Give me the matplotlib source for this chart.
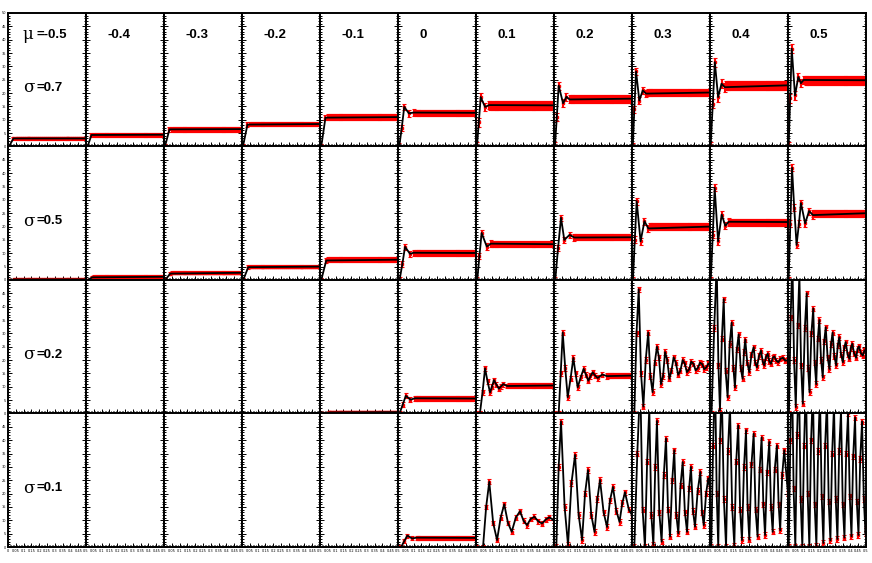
import matplotlib.pyplot as plt
from matplotlib.ticker import MultipleLocator, FuncFormatter

mu_labels = ["-0.5", "-0.4", "-0.3", "-0.2", "-0.1", "0", "0.1", "0.2", "0.3", "0.4", "0.5"]
sigma_labels = ["0.7", "0.5", "0.2", "0.1"]

# sampling times of the data points once a curve has settled
plateau_t = [0.0125 * k for k in range(4, 41)]

err07 = [0.6, 0.7, 0.9, 0.9, 1.0, 1.2, 1.6, 1.5, 1.3, 1.7, 1.6]
err05 = [0.35, 0.5, 0.6, 0.7, 0.9, 1.1, 1.2, 1.2, 1.3, 1.3, 1.3]
err02 = [0.5, 0.5, 0.5, 0.5, 0.6, 0.9, 0.9, 1.0, 1.0, 1.0, 1.0]
err01 = [0.5, 0.5, 0.5, 0.5, 0.5, 0.75, 0.9, 1.0, 1.0, 1.0, 1.0]

# each panel: (t, value) points (start, peaks, dips, slopes, plateau)
sig07 = {
    "-0.5": [(0, 0), (0.006, 0), (0.035, 3.0), (0.5, 3.0)],
    "-0.4": [(0, 0), (0.01, 0), (0.035, 4.3), (0.5, 4.4)],
    "-0.3": [(0, 0), (0.006, 0), (0.035, 6.4), (0.5, 6.5)],
    "-0.2": [(0, 0), (0.006, 0), (0.035, 8.2), (0.5, 8.4)],
    "-0.1": [(0, 0), (0.008, 0), (0.035, 10.8), (0.5, 11.0)],
    "0": [(0, 0), (0.008, 0), (0.024, 7), (0.04, 14.8), (0.07, 12.4), (0.1, 12.7), (0.5, 12.6)],
    "0.1": [(0, 0), (0.006, 0), (0.018, 9), (0.03, 18.5), (0.058, 14.8), (0.085, 15.5),
            (0.5, 15.4)],
    "0.2": [(0, 0), (0.006, 0), (0.018, 11), (0.03, 22.8), (0.058, 16.2), (0.08, 18.6),
            (0.1, 17.6), (0.5, 17.9)],
    "0.3": [(0, 0), (0.005, 0), (0.015, 14), (0.026, 28.1), (0.047, 17.2), (0.069, 21.0),
            (0.09, 19.8), (0.5, 20.2)],
    "0.4": [(0, 0), (0.004, 0), (0.018, 16), (0.031, 31.6), (0.052, 18.5), (0.074, 23.5),
            (0.095, 22.2), (0.5, 22.9)],
    "0.5": [(0, 0), (0.004, 0), (0.014, 18), (0.024, 36.6), (0.045, 19.1), (0.066, 26.0),
            (0.083, 23.7), (0.1, 24.9), (0.5, 24.8)],
}

sig05 = {
    "-0.5": [(0, 0), (0.01, 0), (0.04, 0.2), (0.5, 0.2)],
    "-0.4": [(0, 0), (0.01, 0), (0.04, 1.0), (0.5, 1.2)],
    "-0.3": [(0, 0), (0.008, 0), (0.04, 2.4), (0.5, 2.7)],
    "-0.2": [(0, 0), (0.008, 0), (0.04, 4.8), (0.5, 5.0)],
    "-0.1": [(0, 0), (0.008, 0), (0.04, 7.3), (0.5, 7.6)],
    "0": [(0, 0), (0.01, 0), (0.028, 6), (0.045, 12.4), (0.077, 9.8), (0.1, 10.2), (0.5, 10.1)],
    "0.1": [(0, 0), (0.008, 0), (0.022, 9), (0.036, 17.6), (0.069, 12.5), (0.095, 13.6),
            (0.5, 13.4)],
    "0.2": [(0, 0), (0.008, 0), (0.026, 12), (0.045, 23.3), (0.066, 15.0), (0.1, 16.9),
            (0.13, 15.9), (0.5, 16.0)],
    "0.3": [(0, 0), (0.006, 0), (0.018, 15), (0.03, 29.5), (0.055, 14.5), (0.08, 22.0),
            (0.105, 19.3), (0.5, 20.0)],
    "0.4": [(0, 0), (0.005, 0), (0.018, 17), (0.03, 34.5), (0.052, 14.5), (0.075, 24.5),
            (0.098, 20.3), (0.12, 21.8), (0.5, 21.7)],
    "0.5": [(0, 0), (0.004, 0), (0.015, 21), (0.026, 42.0), (0.04, 27), (0.055, 13.1),
            (0.07, 21), (0.083, 28.8), (0.11, 21.2), (0.135, 25.8), (0.16, 24.3), (0.5, 25.0)],
}

sig02 = {
    "-0.5": [(0, 0), (0.5, 0)],
    "-0.4": [(0, 0), (0.5, 0)],
    "-0.3": [(0, 0), (0.5, 0)],
    "-0.2": [(0, 0), (0.5, 0)],
    "-0.1": [(0, 0), (0.02, 0), (0.06, 0.4), (0.5, 0.5)],
    "0": [(0, 0), (0.01, 0), (0.03, 3.3), (0.05, 6.6), (0.08, 5.2), (0.11, 5.7), (0.5, 5.6)],
    "0.1": [(0, 0), (0.025, 0), (0.042, 8), (0.058, 16.9), (0.074, 12), (0.09, 7.9),
            (0.102, 10), (0.115, 12.5), (0.131, 10.8), (0.147, 9.3), (0.161, 10.2),
            (0.175, 11.0), (0.2, 10.3), (0.5, 10.5)],
    "0.2": [(0, 0), (0.03, 0), (0.043, 15), (0.056, 30.3), (0.072, 17), (0.088, 6.1),
            (0.106, 13), (0.124, 20.8), (0.138, 15), (0.152, 9.8), (0.171, 13.5),
            (0.19, 16.7), (0.205, 14.5), (0.22, 12.3), (0.234, 14), (0.248, 15.4),
            (0.264, 14.2), (0.28, 13.3), (0.31, 14.6), (0.34, 14.0), (0.5, 14.2)],
    "0.3": [(0, 0), (0.015, 0), (0.029, 30), (0.043, 46.5), (0.058, 15), (0.073, 2.6),
            (0.088, 20), (0.104, 30.3), (0.118, 14), (0.132, 8.0), (0.146, 19), (0.16, 25.0),
            (0.173, 21), (0.186, 11.0), (0.199, 14), (0.212, 23.0), (0.226, 20), (0.24, 13.0),
            (0.253, 16), (0.267, 21.0), (0.281, 19), (0.296, 14.5), (0.31, 16),
            (0.325, 20.0), (0.338, 18.8), (0.352, 15.5), (0.366, 16.5), (0.38, 19.4),
            (0.394, 18.6), (0.408, 16.2), (0.422, 17), (0.436, 19.0), (0.45, 18.5),
            (0.463, 16.6), (0.476, 17.2), (0.49, 18.7), (0.5, 18.2)],
    "0.4": [(0, 0), (0.01, 0), (0.027, 32), (0.043, 56), (0.054, 18), (0.064, 1.1),
            (0.076, 28), (0.088, 42.8), (0.1, 16), (0.113, 6.1), (0.126, 26), (0.139, 34),
            (0.15, 17), (0.16, 9.8), (0.172, 24), (0.184, 29.6), (0.197, 17), (0.209, 13),
            (0.218, 23), (0.226, 27.7), (0.239, 19), (0.252, 15.5), (0.266, 22),
            (0.28, 24.8), (0.29, 19), (0.301, 17.3), (0.314, 21.5), (0.327, 23.5),
            (0.338, 19.5), (0.348, 18), (0.359, 21.2), (0.37, 22.4), (0.38, 19.6),
            (0.391, 18.6), (0.402, 20.8), (0.412, 21.4), (0.425, 19.8), (0.438, 19.2),
            (0.452, 20.5), (0.466, 20.9), (0.483, 19.8), (0.5, 20)],
    "0.5": [(0, 0), (0.006, 0), (0.017, 36), (0.028, 58), (0.039, 20), (0.05, 2.4),
            (0.062, 33), (0.073, 52), (0.084, 18), (0.095, 3.7), (0.108, 32), (0.12, 45),
            (0.129, 17), (0.138, 8), (0.15, 30), (0.162, 39.3), (0.171, 19), (0.181, 11),
            (0.191, 28), (0.201, 35), (0.212, 20), (0.223, 13.6), (0.232, 27), (0.242, 32.3),
            (0.254, 21), (0.266, 16.7), (0.276, 26), (0.286, 30.3), (0.297, 21.5),
            (0.309, 18), (0.319, 25.5), (0.329, 28.6), (0.34, 22), (0.352, 19.2),
            (0.361, 24.8), (0.37, 26.7), (0.382, 22.2), (0.394, 20.5), (0.403, 24.5),
            (0.412, 26.1), (0.424, 22.5), (0.437, 20.9), (0.446, 24.2), (0.455, 25.1),
            (0.467, 22.6), (0.48, 21.7), (0.49, 23.5), (0.5, 24)],
}

sig01 = {
    "-0.5": [(0, 0), (0.5, 0)],
    "-0.4": [(0, 0), (0.5, 0)],
    "-0.3": [(0, 0), (0.5, 0)],
    "-0.2": [(0, 0), (0.5, 0)],
    "-0.1": [(0, 0), (0.5, 0)],
    "0": [(0, 0), (0.02, 0), (0.04, 2.2), (0.06, 4.3), (0.09, 3.2), (0.12, 3.5), (0.5, 3.4)],
    "0.1": [(0, 0), (0.045, 0), (0.065, 15), (0.085, 24.4), (0.11, 9), (0.135, 2.6),
            (0.158, 11), (0.181, 16), (0.205, 9), (0.229, 5.7), (0.255, 11), (0.282, 13.4),
            (0.305, 9.8), (0.327, 8.2), (0.35, 10.5), (0.374, 11.3), (0.4, 9.6), (0.423, 8.8),
            (0.447, 10.3), (0.47, 11.1), (0.5, 10)],
    "0.2": [(0, 0), (0.015, 0), (0.03, 30), (0.045, 47), (0.068, 15), (0.09, 0.7),
            (0.112, 24), (0.135, 34.5), (0.158, 12), (0.18, 2.6), (0.199, 20), (0.218, 28.8),
            (0.239, 12), (0.26, 5.6), (0.278, 18), (0.295, 25.1), (0.318, 13), (0.34, 7.5),
            (0.359, 17.5), (0.378, 22.5), (0.4, 13.5), (0.42, 9.4), (0.438, 16.5),
            (0.455, 20.5), (0.48, 14), (0.5, 12)],
    "0.3": [(0, 0), (0.015, 0), (0.034, 35), (0.053, 62), (0.068, 14), (0.083, 0),
            (0.097, 32), (0.111, 52), (0.124, 12), (0.137, 0.8), (0.149, 30), (0.16, 47.2),
            (0.175, 13), (0.19, 2), (0.204, 27), (0.218, 40.6), (0.231, 14), (0.244, 3.9),
            (0.258, 25), (0.271, 36.2), (0.284, 12), (0.297, 5.1), (0.311, 23), (0.325, 31.8),
            (0.339, 13), (0.353, 5.7), (0.366, 22), (0.378, 30), (0.391, 13.5), (0.404, 7.6),
            (0.421, 21), (0.438, 28.1), (0.449, 13), (0.46, 8.2), (0.475, 20),
            (0.489, 25.7), (0.5, 22)],
    "0.4": [(0, 0), (0.008, 0), (0.02, 38), (0.032, 66), (0.043, 20), (0.053, 0),
            (0.064, 40), (0.075, 60), (0.089, 18), (0.103, 0), (0.115, 36), (0.128, 53),
            (0.142, 15), (0.156, 0.5), (0.168, 32), (0.181, 45.5), (0.193, 14), (0.205, 2.6),
            (0.218, 30), (0.231, 43.7), (0.241, 15), (0.252, 2.8), (0.266, 31), (0.28, 42.4),
            (0.292, 14), (0.305, 3.9), (0.318, 29), (0.331, 41), (0.342, 16), (0.353, 4.5),
            (0.366, 28), (0.38, 39.3), (0.391, 15), (0.402, 5.7), (0.415, 29), (0.429, 38),
            (0.44, 16), (0.45, 6.3), (0.463, 27), (0.476, 36.2), (0.5, 20)],
    "0.5": [(0, 0), (0.005, 0), (0.015, 40), (0.025, 70), (0.036, 22), (0.047, 0),
            (0.058, 42), (0.07, 66), (0.081, 18), (0.092, 0), (0.103, 38), (0.115, 62),
            (0.126, 20), (0.137, 0), (0.148, 40), (0.16, 59), (0.171, 16), (0.182, 0.5),
            (0.193, 36), (0.205, 57), (0.216, 19), (0.227, 1.5), (0.238, 38), (0.25, 55),
            (0.261, 17), (0.272, 2.5), (0.283, 35), (0.295, 53), (0.306, 18), (0.317, 3),
            (0.328, 36), (0.34, 51), (0.351, 16), (0.362, 3.5), (0.373, 35), (0.385, 50),
            (0.396, 19), (0.407, 4), (0.418, 34), (0.43, 48.5), (0.441, 17), (0.452, 4.5),
            (0.463, 33), (0.475, 47), (0.486, 18), (0.497, 5), (0.5, 8)],
}

rows = [sig07, sig05, sig02, sig01]
errs = [err07, err05, err02, err01]


def y_fmt_top(v, pos):
    return '%g' % v


def y_fmt_inner(v, pos):
    # the top label would sit on the zero of the panel above
    return '' if v >= 50 else '%g' % v


def x_fmt_first(v, pos):
    return '%g' % v


def x_fmt_other(v, pos):
    return '' if v <= 0 else '%g' % v


fig, axes = plt.subplots(4, 11, figsize=(8.72, 5.63), dpi=100)
fig.subplots_adjust(left=0.0092, right=0.9931, bottom=0.0284, top=0.977, wspace=0, hspace=0)

for r, panels in enumerate(rows):
    for c, mu in enumerate(mu_labels):
        ax = axes[r, c]
        t, y = zip(*panels[mu])
        # data points with error bars
        pt_t = list(t)
        pt_y = list(y)
        if t[-2] < 0.4 and y[-1] > 0:
            for tp in plateau_t:
                if tp > t[-2]:
                    pt_t.append(tp)
                    pt_y.append(y[-1])
        if max(y) > 0:
            ax.errorbar(pt_t, pt_y, yerr=errs[r][c], fmt='s', color='red', ms=2.0,
                        elinewidth=1.5, capsize=1.1, capthick=0.8, zorder=2)
        ax.plot(t, y, color='black', lw=1.3, zorder=3)

        ax.set_xlim(0, 0.5)
        ax.set_ylim(0, 50)
        ax.xaxis.set_major_locator(MultipleLocator(0.05))
        ax.xaxis.set_minor_locator(MultipleLocator(0.01))
        ax.yaxis.set_major_locator(MultipleLocator(5))
        ax.yaxis.set_minor_locator(MultipleLocator(1))
        ax.xaxis.set_major_formatter(FuncFormatter(x_fmt_first if c == 0 else x_fmt_other))
        ax.yaxis.set_major_formatter(FuncFormatter(y_fmt_top if r == 0 else y_fmt_inner))
        ax.tick_params(which='both', direction='in', left=True, right=True,
                       bottom=True, top=False, labelsize=2.5, pad=1.5, width=0.7,
                       labelleft=(c == 0), labelbottom=(r == 3))
        ax.tick_params(which='major', length=3)
        ax.tick_params(which='minor', length=1.5)
        for s in ax.spines.values():
            s.set_linewidth(1.4)

        if r == 0 and c > 0:
            ax.text(0.28, 0.835, mu, transform=ax.transAxes, fontsize=9.5,
                    fontweight='bold', family='Liberation Sans', va='center')
        if c == 0:
            if r == 0:
                ax.text(0.19, 0.835, "\u03bc", transform=ax.transAxes, fontsize=12,
                        family='DejaVu Serif', va='center')
                ax.text(0.37, 0.835, "=" + mu, transform=ax.transAxes, fontsize=9.5,
                        fontweight='bold', family='Liberation Sans', va='center')
            ax.text(0.19, 0.44, "\u03c3", transform=ax.transAxes, fontsize=12,
                    family='DejaVu Serif', va='center')
            ax.text(0.37, 0.44, "=" + sigma_labels[r], transform=ax.transAxes,
                    fontsize=9.5, fontweight='bold', family='Liberation Sans', va='center')

plt.savefig('out.png', dpi=100)
